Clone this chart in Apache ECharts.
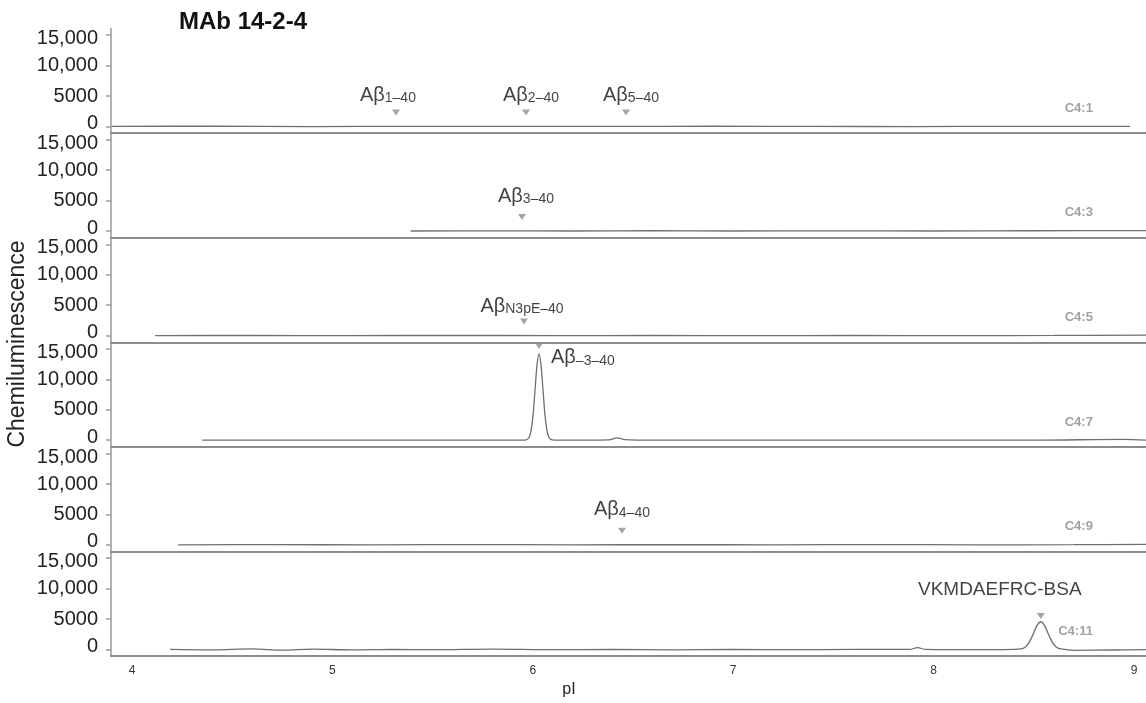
<!DOCTYPE html>
<html><head><meta charset="utf-8">
<script src="https://cdn.jsdelivr.net/npm/echarts@6/dist/echarts.min.js"></script>
<style>html,body{margin:0;padding:0;background:#fff}#c{width:1146px;height:703px}</style>
</head><body><div id="c"></div>
<script>
// ---------- data ----------
const panelNames = ['C4:1', 'C4:3', 'C4:5', 'C4:7', 'C4:9', 'C4:11'];
const yTickValues = [0, 5000, 10000, 15000];
const yTickLabels = ['0', '5000', '10,000', '15,000'];
const xTickValues = [4, 5, 6, 7, 8, 9];
const xTickLabels = ['4', '5', '6', '7', '8', '9'];

const trace1 = [[3.9, 0], [4.4, 30], [4.9, -20], [5.4, 20], [5.9, -10], [6.4, 0], [6.9, 30], [7.4, 0], [7.9, -20], [8.4, 10], [8.98, 0]];
const trace2 = [[5.39, 0], [5.8, 30], [6.2, 0], [6.6, 40], [7.0, 0], [7.5, 30], [8.0, 0], [8.5, 40], [9.06, 60]];
const trace3 = [[4.115, 0], [4.6, 20], [5.1, 0], [5.6, 30], [6.1, 0], [6.6, 20], [7.1, 0], [7.6, 20], [8.1, 0], [8.6, 30], [9.06, 80]];
const trace4 = [[4.35, 0], [4.8, 20], [5.3, 0], [5.7, 20], [5.95, 0], [5.966, 40], [5.981, 450], [5.991, 1550], [6.001, 4050], [6.011, 8200], [6.021, 12350], [6.031, 14200],
  [6.041, 12350], [6.051, 8200], [6.061, 4050], [6.071, 1550], [6.081, 450], [6.096, 40], [6.13, 0], [6.38, 50], [6.42, 400], [6.46, 100], [6.6, 0], [7.0, 30], [7.5, 0], [8.0, 20], [8.5, 0], [8.95, 150], [9.06, 0]];
const trace5 = [[4.23, 0], [4.7, 20], [5.2, 0], [5.7, 30], [6.2, 0], [6.7, 20], [7.2, 0], [7.7, 30], [8.2, 0], [8.7, 20], [9.06, 60]];
const trace6 = [[4.19, 0], [4.4, -80], [4.6, 80], [4.75, -120], [4.9, 50], [5.1, -80], [5.3, 0], [5.5, -50], [5.8, 50], [6.1, -50], [6.4, 0], [6.7, -80], [7.0, 0], [7.3, -50], [7.6, 0],
  [7.88, 0], [7.92, 300], [7.96, 0], [8.2, -50], [8.4, 0], [8.435, 80], [8.455, 330], [8.475, 1040], [8.495, 2370], [8.515, 3870], [8.535, 4550], [8.555, 3870], [8.575, 2370],
  [8.595, 1040], [8.615, 330], [8.635, 80], [8.7, -150], [8.9, -100], [9.06, -50]];
const traces = [trace1, trace2, trace3, trace4, trace5, trace6];

const markerPanel = [0, 0, 0, 1, 2, 3, 4, 5];
const markerPI = [5.317, 5.966, 6.465, 5.946, 5.956, 6.031, 6.445, 8.535];
const markerY = [2300, 2300, 2300, 2300, 2300, 15500, 2300, 5500];
const markerMain = ['Aβ', 'Aβ', 'Aβ', 'Aβ', 'Aβ', 'Aβ', 'Aβ', 'VKMDAEFRC-BSA'];
const markerSub = ['1–40', '2–40', '5–40', '3–40', 'N3pE–40', '–3–40', '4–40', ''];
const panelLabelPI = 8.795;
const panelLabelY = 3000;

// ---------- layout / style ----------
const markerLabelPos = ['top', 'top', 'top', 'top', 'top', 'right', 'top', 'top'];
const markerLabelDist = [4, 4, 4, 8, 2, 8, 8, 12];
const markerLabelOffset = [[-8, 0], [5, 0], [5, 0], [4, 0], [-2, 0], [0, 10], [0, 0], [-41, 0]];

const F = '"Liberation Sans", Arial, sans-serif';
const N = 6;
const gridTop0 = 28.5, gridH = 104.6;
const xMin = 3.895, xMax = 9.06, yMin = -1100, yMax = 16100;

const grid = [], xAxis = [], yAxis = [], series = [];
for (let i = 0; i < N; i++) {
  grid.push({ left: 111, right: 0, top: gridTop0 + i * gridH, height: gridH });
  const last = i === N - 1;
  xAxis.push({
    type: 'value', gridIndex: i, min: xMin, max: xMax,
    axisLine: { show: true, onZero: false, lineStyle: { color: '#8c8c8c', width: 2 } },
    axisTick: { show: false },
    splitLine: { show: false },
    axisLabel: last ? {
      show: true, customValues: xTickValues, margin: 9,
      formatter: v => xTickLabels[xTickValues.indexOf(v)] ?? '',
      fontSize: 12, color: '#333', fontFamily: F
    } : { show: false }
  });
  yAxis.push({
    type: 'value', gridIndex: i, min: yMin, max: yMax,
    axisLine: { show: true, onZero: false, lineStyle: { color: '#9a9a9a', width: 1.5 } },
    axisTick: { show: true, customValues: yTickValues, length: 5, lineStyle: { color: '#9a9a9a', width: 1.5 } },
    splitLine: { show: false },
    axisLabel: {
      show: true, customValues: yTickValues, margin: 13,
      formatter: v => {
        const t = yTickLabels[yTickValues.indexOf(v)] ?? '';
        if (v === 15000) return '{t|' + t + '}';
        if (v === 0) return '{z|' + t + '}';
        return '{n|' + t + '}';
      },
      rich: {
        t: { fontSize: 20, color: '#222', fontFamily: F, padding: [7, 0, 0, 0] },
        z: { fontSize: 20, color: '#222', fontFamily: F, padding: [0, 0, 6, 0] },
        n: { fontSize: 20, color: '#222', fontFamily: F }
      },
      fontSize: 20, color: '#222', fontFamily: F
    }
  });
  series.push({
    type: 'line', xAxisIndex: i, yAxisIndex: i, data: traces[i],
    showSymbol: false, smooth: 0.35, lineStyle: { color: '#6f6f6f', width: 1.3 },
    silent: true, z: 3
  });
  // panel label
  series.push({
    type: 'scatter', xAxisIndex: i, yAxisIndex: i, symbolSize: 0, silent: true,
    data: [{ value: [panelLabelPI, panelLabelY], name: panelNames[i] }],
    label: { show: true, position: 'left', distance: 0, formatter: p => p.name,
      fontSize: 13, fontWeight: 'bold', color: '#8a8a8a', fontFamily: F }
  });
  // markers
  const items = [];
  markerPanel.forEach((p, k) => {
    if (p !== i) return;
    const txt = markerSub[k] ? '{a|' + markerMain[k] + '}{s|' + markerSub[k] + '}' : '{b|' + markerMain[k] + '}';
    items.push({
      value: [markerPI[k], markerY[k]],
      label: {
        show: true, position: markerLabelPos[k], distance: markerLabelDist[k], offset: markerLabelOffset[k],
        formatter: txt,
        rich: {
          a: { fontSize: 20, lineHeight: 24, color: '#111', fontFamily: F, verticalAlign: 'bottom' },
          s: { fontSize: 14, lineHeight: 14, color: '#111', fontFamily: F, verticalAlign: 'bottom' },
          b: { fontSize: 19, lineHeight: 22, color: '#111', fontFamily: F }
        }
      }
    });
  });
  series.push({
    type: 'scatter', xAxisIndex: i, yAxisIndex: i, silent: true,
    symbol: 'triangle', symbolRotate: 180, symbolSize: [8, 6],
    itemStyle: { color: '#8f8f8f' }, data: items, z: 4
  });
}

const chart = echarts.init(document.getElementById('c'), null, { renderer: 'canvas' });
chart.setOption({
  animation: false,
  backgroundColor: '#fff',
  grid, xAxis, yAxis, series,
  graphic: [
    { type: 'text', x: 179, y: 22, style: { text: 'MAb 14-2-4', font: 'bold 24px ' + F, fill: '#111', align: 'left', verticalAlign: 'middle', textAlign: 'left', textVerticalAlign: 'middle' } },
    { type: 'text', x: 18, y: 344, rotation: Math.PI / 2, style: { text: 'Chemiluminescence', font: '23px ' + F, fill: '#222', align: 'center', verticalAlign: 'middle', textAlign: 'center', textVerticalAlign: 'middle' } },
    { type: 'text', x: 569, y: 690, style: { text: 'pI', font: '16px ' + F, fill: '#222', align: 'center', verticalAlign: 'middle', textAlign: 'center', textVerticalAlign: 'middle' } }
  ]
});
</script>
</body></html>
